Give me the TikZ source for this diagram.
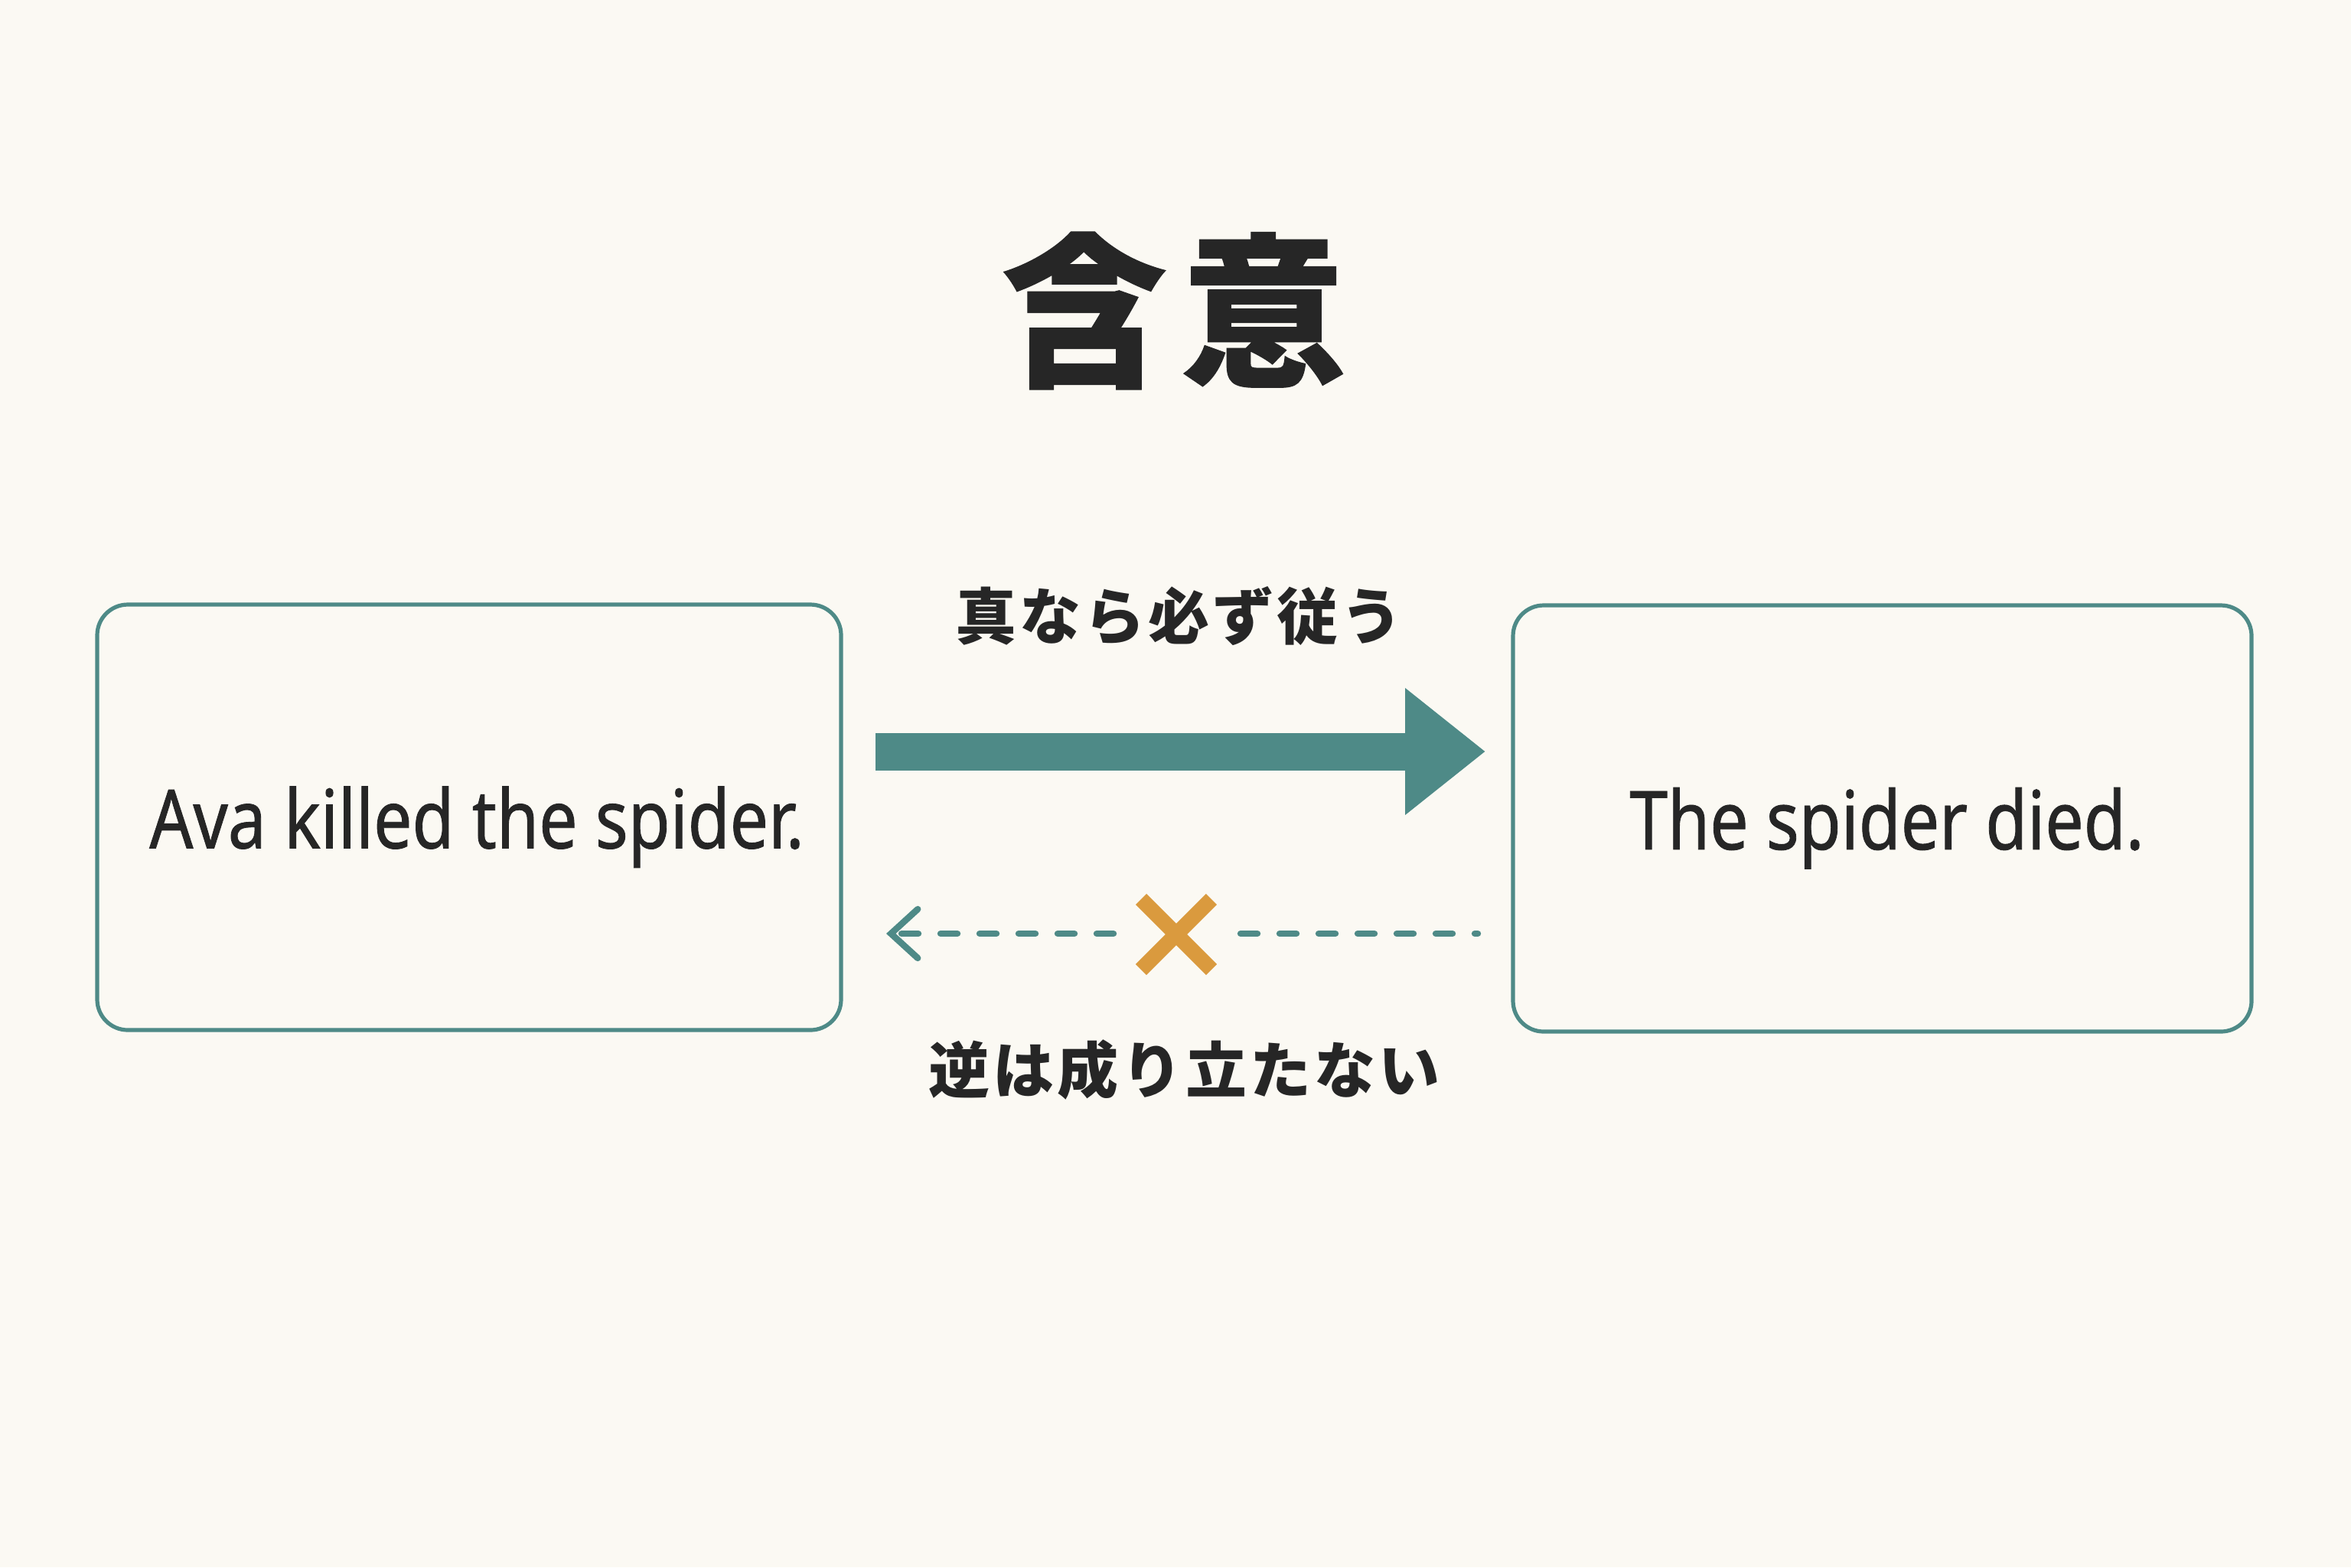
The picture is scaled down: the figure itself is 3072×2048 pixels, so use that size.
\documentclass[tikz,border=0pt]{standalone}
\usepackage{fontspec}
\setmainfont{Noto Sans}
\newfontfamily\cjk[LetterSpace=5]{Noto Sans CJK JP}
\newfontfamily\cjktitle[FakeBold=0.6]{Noto Sans CJK JP}
\newfontfamily\engfont[FakeStretch=0.84,FakeBold=0.8]{Noto Sans}
\usetikzlibrary{arrows.meta}
\definecolor{bgc}{HTML}{FBF9F3}
\definecolor{tealc}{HTML}{4E8A87}
\definecolor{inkc}{HTML}{262626}
\definecolor{orngc}{HTML}{DA9A3E}
\begin{document}
\begin{tikzpicture}[x=0.25pt,y=-0.25pt,
  box/.style={draw=tealc, line width=1.3pt, rounded corners=10pt, fill=bgc,
    text=inkc, inner sep=0pt, text depth=0pt, font=\engfont\fontsize{26.6pt}{32pt}\selectfont},
  lbl/.style={text=inkc, inner sep=0pt, font=\cjk\bfseries\fontsize{20pt}{24pt}\selectfont},
  thickarrow/.style={draw=tealc, line width=12.25pt, -{Triangle[length=26.25pt,width=39.75pt]}},
  dashline/.style={draw=tealc, line width=2.1pt, line cap=round, dash pattern=on 5.5pt off 7.25pt},
  crossline/.style={draw=orngc, line width=5pt}
]
\fill[bgc] (0,0) rectangle (3072,2048);
\useasboundingbox (0,0) rectangle (3072,2048);

\node[text=inkc, inner sep=0pt, font=\cjktitle\bfseries\fontsize{54pt}{60pt}\selectfont] (title) at (1534,406) {含\hspace{4.5pt}意};

\node[box, minimum width=243pt, minimum height=139pt] (a) at (613,1068) {\hspace{5pt}Ava killed the spider.};
\node[box, minimum width=241.25pt, minimum height=139.25pt] (b) at (2459.5,1069.5) {\hspace{3pt}The spider died.};

\node[lbl] (top) at (1540,805) {真なら必ず従う};
\node[lbl] (bot) at (1547,1398) {逆は成り立たない};

\coordinate (fs) at (1144,982);
\coordinate (fe) at (1941,982);
\draw[thickarrow] (fs) -- (fe);

\coordinate (xR) at (1621,1220);
\coordinate (dR) at (1931,1220);
\coordinate (xL) at (1455,1220);
\coordinate (dL) at (1158,1220);
\draw[dashline] (xR) -- (dR);
\draw[dashline, -{Straight Barb[length=8.75pt,width=16pt,line cap=round]}] (xL) -- (dL);

\coordinate (cx) at (1537,1221);
\draw[crossline] (cx) ++(-46,-46) -- ++(92,92);
\draw[crossline] (cx) ++(46,-46) -- ++(-92,92);
\end{tikzpicture}
\end{document}
